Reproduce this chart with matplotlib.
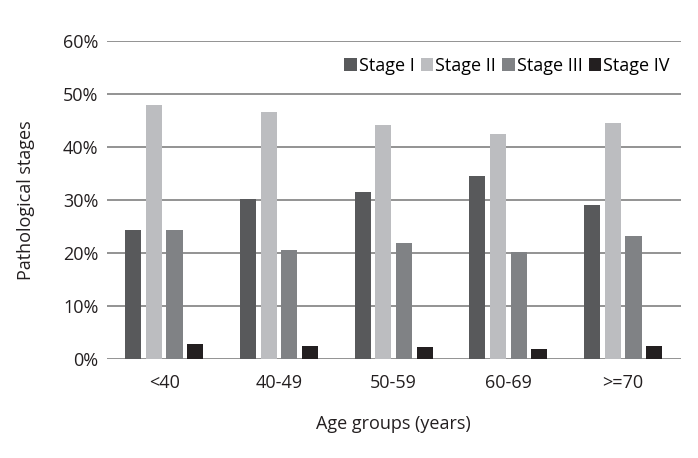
import matplotlib
matplotlib.use("Agg")
import matplotlib.pyplot as plt
import numpy as np
from matplotlib.ticker import PercentFormatter

categories = ["<40", "40-49", "50-59", "60-69", ">=70"]
stage_names = ["Stage I", "Stage II", "Stage III", "Stage IV"]
stage1 = [24.4, 30.2, 31.6, 34.6, 29.0]
stage2 = [47.9, 46.6, 44.1, 42.4, 44.6]
stage3 = [24.4, 20.5, 21.9, 20.2, 23.3]
stage4 = [2.8, 2.5, 2.2, 1.9, 2.5]
colors = ["#58595b", "#bcbdc0", "#808285", "#231f20"]

plt.rcParams["font.family"] = ["Open Sans", "DejaVu Sans"]

fig = plt.figure(figsize=(6.98, 4.58), dpi=100)
ax = fig.add_axes([0.153, 0.216, 0.822, 0.694])

x = np.arange(len(categories))
w = 0.14
pitch = 0.18
series = [stage1, stage2, stage3, stage4]
for i, (vals, name, c) in enumerate(zip(series, stage_names, colors)):
    ax.bar(x + (i - 1.5) * pitch, vals, width=w, color=c, label=name, zorder=3)

ax.set_xlim(-0.5, 4.5)
ax.set_ylim(0, 60)
ax.set_yticks(np.arange(0, 61, 10))
ax.yaxis.set_major_formatter(PercentFormatter(decimals=0))
ax.set_xticks(x)
ax.set_xticklabels(categories)
ax.grid(axis="y", color="#8a8a8a", linewidth=1.3, zorder=0)
for s in ax.spines.values():
    s.set_visible(False)
ax.tick_params(axis="both", length=0, labelsize=13, colors="#231f20", pad=6)
ax.tick_params(axis="x", pad=11)

ax.set_xlabel("Age groups (years)", fontsize=13, color="#231f20", labelpad=16)
ax.set_ylabel("Pathological stages", fontsize=13, color="#231f20", labelpad=20)

ax.legend(loc="upper right", bbox_to_anchor=(1.0, 0.985), ncol=4, frameon=False,
          fontsize=13, handlelength=0.7, handleheight=0.7, handletextpad=0.1,
          columnspacing=0.35, borderaxespad=0.2)

fig.savefig("out.png", dpi=100)
